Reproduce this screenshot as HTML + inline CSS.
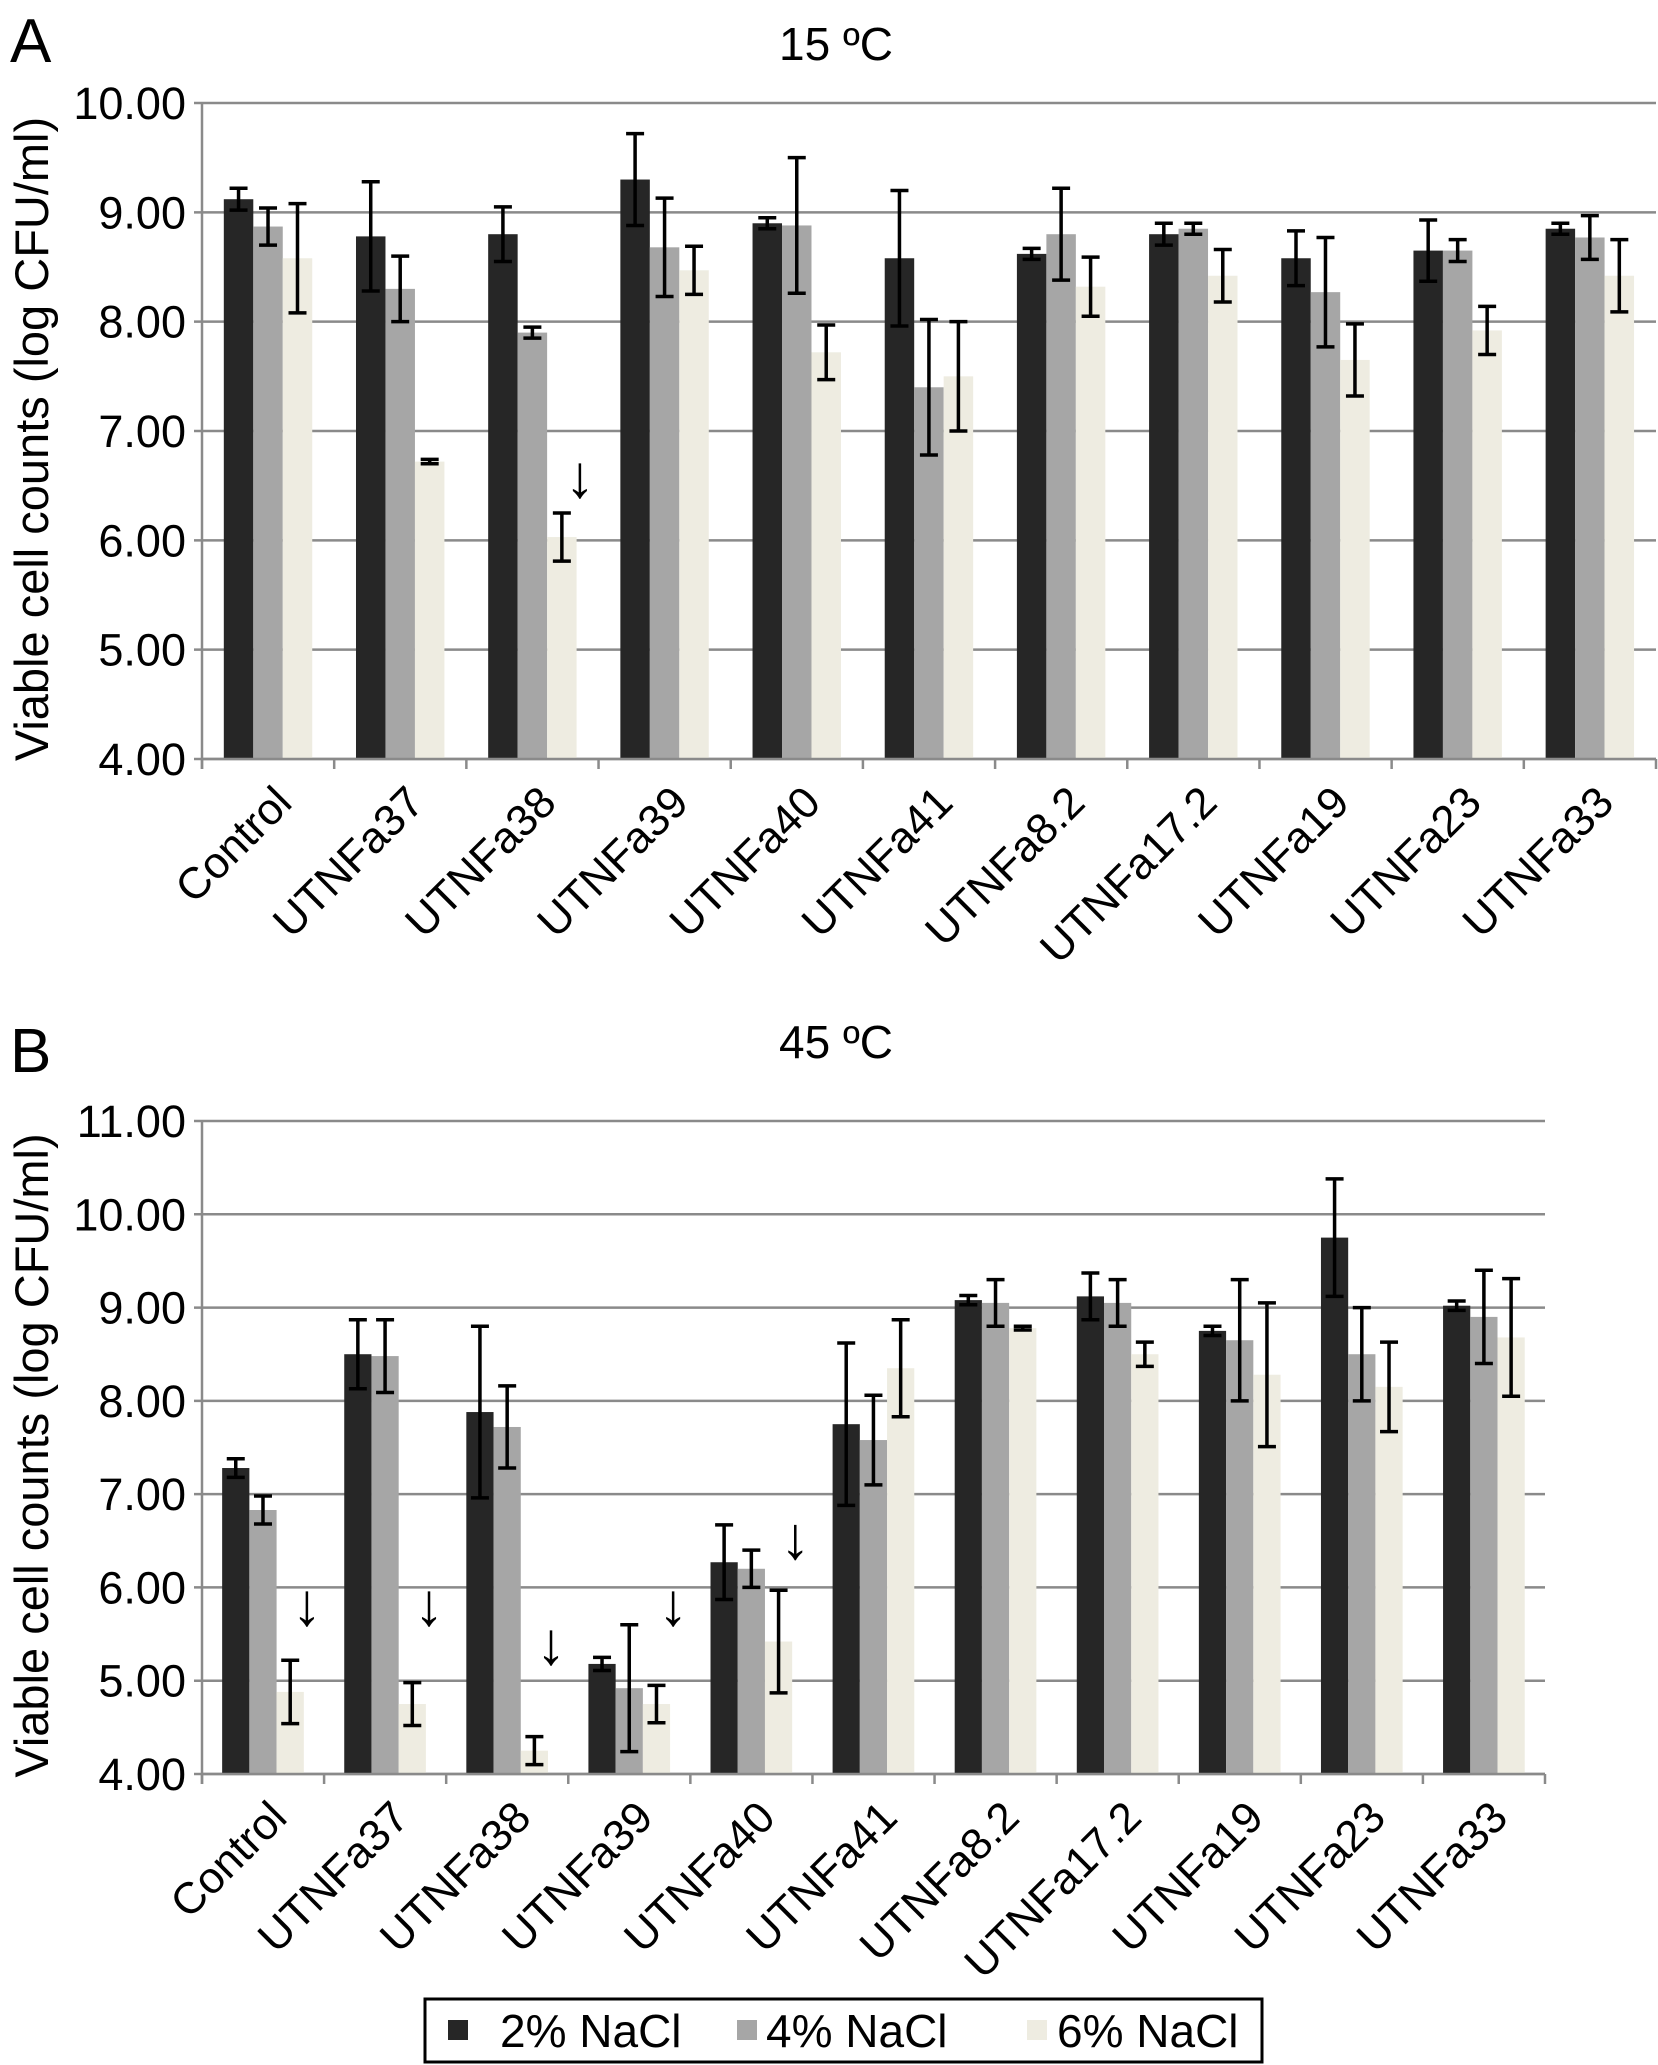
<!DOCTYPE html>
<html><head><meta charset="utf-8"><style>
html,body{margin:0;padding:0;background:#fff;}
svg{display:block;font-family:"Liberation Sans",Arial,sans-serif;}
</style></head><body>
<svg id="fig" width="1658" height="2065" viewBox="0 0 1658 2065" xmlns="http://www.w3.org/2000/svg">
<text x="10" y="62" font-size="62">A</text>
<text x="836" y="60" font-size="46" text-anchor="middle">15 ºC</text>
<text x="10" y="1072" font-size="62">B</text>
<text x="836" y="1058" font-size="46" text-anchor="middle">45 ºC</text>
<g id="gA"></g>
<g id="gB"></g>
<g>
<rect x="425" y="1999" width="837" height="63" fill="#fff" stroke="#000" stroke-width="3"/>
<rect x="448" y="2020" width="20" height="20" fill="#262626"/>
<text x="500" y="2047" font-size="46">2% NaCl</text>
<rect x="737" y="2020" width="20" height="20" fill="#a6a6a6"/>
<text x="766" y="2047" font-size="46">4% NaCl</text>
<rect x="1027" y="2020" width="20" height="20" fill="#eeece1"/>
<text x="1057" y="2047" font-size="46">6% NaCl</text>
</g>
</svg>
<script>
const catsA = ["Control","UTNFa37","UTNFa38","UTNFa39","UTNFa40","UTNFa41","UTNFa8.2","UTNFa17.2","UTNFa19","UTNFa23","UTNFa33"];
const a2 = [9.12,8.78,8.80,9.30,8.90,8.58,8.62,8.80,8.58,8.65,8.85];
const a2e = [0.10,0.50,0.25,0.42,0.05,0.62,0.05,0.10,0.25,0.28,0.05];
const a4 = [8.87,8.30,7.90,8.68,8.88,7.40,8.80,8.85,8.27,8.65,8.77];
const a4e = [0.17,0.30,0.05,0.45,0.62,0.62,0.42,0.05,0.50,0.10,0.20];
const a6 = [8.58,6.72,6.03,8.47,7.72,7.50,8.32,8.42,7.65,7.92,8.42];
const a6e = [0.50,0.02,0.22,0.22,0.25,0.50,0.27,0.24,0.33,0.22,0.33];
const arrowsA = [null,null,6.8,null,null,null,null,null,null,null,null];
const ticksA = [4,5,6,7,8,9,10];

const catsB = ["Control","UTNFa37","UTNFa38","UTNFa39","UTNFa40","UTNFa41","UTNFa8.2","UTNFa17.2","UTNFa19","UTNFa23","UTNFa33"];
const b2 = [7.28,8.50,7.88,5.18,6.27,7.75,9.08,9.12,8.75,9.75,9.02];
const b2e = [0.10,0.37,0.92,0.07,0.40,0.87,0.05,0.25,0.05,0.63,0.05];
const b4 = [6.83,8.48,7.72,4.92,6.20,7.58,9.05,9.05,8.65,8.50,8.90];
const b4e = [0.15,0.39,0.44,0.68,0.20,0.48,0.25,0.25,0.65,0.50,0.50];
const b6 = [4.88,4.75,4.25,4.75,5.42,8.35,8.78,8.50,8.28,8.15,8.68];
const b6e = [0.34,0.23,0.15,0.20,0.55,0.52,0.02,0.13,0.77,0.48,0.63];
const arrowsB = [6.07,6.07,5.65,6.07,6.78,null,null,null,null,null,null];
const ticksB = [4,5,6,7,8,9,10,11];

const NS="http://www.w3.org/2000/svg";
function mk(parent,tag,attrs,text){const e=document.createElementNS(NS,tag);for(const k in attrs)e.setAttribute(k,attrs[k]);if(text!==undefined)e.textContent=text;parent.appendChild(e);return e;}

function chart(g,cats,series,errs,arrows,ticks,x0,x1,yTop,yBot){
  const vmin=ticks[0],vmax=ticks[ticks.length-1];
  const y=v=>yBot-(v-vmin)/(vmax-vmin)*(yBot-yTop);
  const cw=(x1-x0)/cats.length;
  const xc=i=>x0+cw*i;
  ticks.forEach(t=>{
    const l=mk(g,'line',{x1:x0-8,x2:x1,y1:y(t),y2:y(t),stroke:'#8a8a8a','stroke-width':2.5});
    
    
    const tx=mk(g,'text',{x:x0-16,y:y(t)+16,'font-size':45,'text-anchor':'end'},t.toFixed(2));
    
    
  });
  const yt=mk(g,'text',{x:0,y:0,'font-size':47,'text-anchor':'middle',transform:`translate(48,${(yTop+yBot)/2+8}) rotate(-90)`},'Viable cell counts (log CFU/ml)');
  
  
  const colors=['#262626','#a6a6a6','#eeece1'];
  const bw=cw*0.223, off=cw*0.165;
  cats.forEach((c,i)=>{
    series.forEach((s,k)=>{
      const bx=xc(i)+off+bw*k;
      const r=mk(g,'rect',{x:bx,y:y(s[i]),width:bw,height:yBot-y(s[i]),fill:colors[k]});
      
      
    });
    series.forEach((s,k)=>{
      const cx=xc(i)+off+bw*k+bw/2, e=errs[k][i];
      const eg=mk(g,'g',{stroke:'#000','stroke-width':3.5});
      
      
      mk(eg,'line',{x1:cx,x2:cx,y1:y(s[i]+e),y2:y(s[i]-e)});
      mk(eg,'line',{x1:cx-9,x2:cx+9,y1:y(s[i]+e),y2:y(s[i]+e)});
      mk(eg,'line',{x1:cx-9,x2:cx+9,y1:y(s[i]-e),y2:y(s[i]-e)});
    });
    if(arrows[i]!==null){
      const ax=xc(i)+cw*0.86;
      const ar=mk(g,'text',{x:ax,y:y(arrows[i])+44,'font-size':60,'text-anchor':'middle'},'↓');
      
      
    }
    const lb=mk(g,'text',{x:0,y:0,'font-size':44,'text-anchor':'end',transform:`translate(${xc(i)+cw/2+26},${yBot+46}) rotate(-45)`},c);
    
    
  });
  for(let i=0;i<=cats.length;i++){
    const tk=mk(g,'line',{x1:xc(i),x2:xc(i),y1:yBot,y2:yBot+10,stroke:'#8a8a8a','stroke-width':2.5});
    
    
  }
  const ax=mk(g,'line',{x1:x0,x2:x0,y1:yTop,y2:yBot+10,stroke:'#8a8a8a','stroke-width':2.5});
  
  
  const bx=mk(g,'line',{x1:x0,x2:x1,y1:yBot,y2:yBot,stroke:'#8a8a8a','stroke-width':2.5});
  
  
}
chart(document.getElementById('gA'),catsA,[a2,a4,a6],[a2e,a4e,a6e],arrowsA,ticksA,202,1656,103,759);
chart(document.getElementById('gB'),catsB,[b2,b4,b6],[b2e,b4e,b6e],arrowsB,ticksB,202,1545,1121,1774);
</script>
</body></html>
